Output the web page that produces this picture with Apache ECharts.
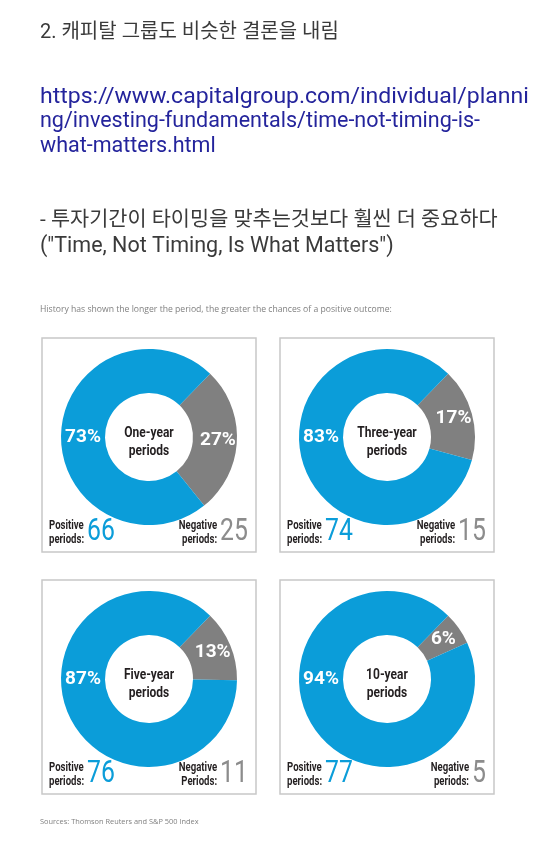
<!DOCTYPE html>
<html><head><meta charset="utf-8">
<script src="https://cdn.jsdelivr.net/npm/echarts@6/dist/echarts.min.js"></script>
<style>html,body{margin:0;padding:0;background:#fff}#c{width:540px;height:850px}</style>
</head><body><div id="c"></div>
<script>
// ---- data ----
const periods = ['One-year', 'Three-year', 'Five-year', '10-year'];
const positivePct = [73, 83, 87, 94];
const negativePct = [27, 17, 13, 6];
const positiveCount = [66, 74, 76, 77];
const negativeCount = [25, 15, 11, 5];
const negativeWord = ['periods:', 'periods:', 'Periods:', 'periods:'];
const headingText = '2. 캐피탈 그룹도 비슷한 결론을 내림';
const urlLines = ['https://www.capitalgroup.com/individual/planni', 'ng/investing-fundamentals/time-not-timing-is-', 'what-matters.html'];
const noteLines = ['- 투자기간이 타이밍을 맞추는것보다 훨씬 더 중요하다', '("Time, Not Timing, Is What Matters")'];
const captionText = 'History has shown the longer the period, the greater the chances of a positive outcome:';
const sourceText = 'Sources: Thomson Reuters and S&P 500 Index';

// ---- layout ----
const BLUE = '#0b9dd9', GRAY = '#808080', NUMGRAY = '#8c8c8c', DARK = '#231f20';
const FONT = 'Roboto';
const SX = 0.8; // horizontal condensing for panel texts
const boxes = [[42, 338], [280, 338], [42, 580], [280, 580]];
const BOX = 214;
const R0 = 44, R1 = 88;

const mctx = document.createElement('canvas').getContext('2d');
function textW(t, font) { mctx.font = font; return mctx.measureText(t).width; }

const graphic = [];
const fam = "Roboto,'Noto Sans CJK KR',sans-serif";
graphic.push({type: 'text', style: {text: headingText, x: 40, y: 33, font: '20px ' + fam, fill: '#3a3a3a', verticalAlign: 'middle'}});
urlLines.forEach((t, i) => graphic.push({type: 'text', x: 40, y: 97.5 + i * 24.5, scaleX: i === 0 ? 1.07 : 1, style: {text: t, x: 0, y: 0, font: '21.5px ' + fam, fill: '#24249c', verticalAlign: 'middle'}}));
graphic.push({type: 'text', style: {text: noteLines[0], x: 40, y: 221, font: '20.8px ' + fam, fill: '#3a3a3a', verticalAlign: 'middle'}});
graphic.push({type: 'text', style: {text: noteLines[1], x: 40, y: 247, font: '21.5px ' + fam, fill: '#3a3a3a', verticalAlign: 'middle'}});
graphic.push({type: 'text', style: {text: captionText, x: 40, y: 310, font: "8.65px 'Open Sans',sans-serif", fill: '#808080', verticalAlign: 'middle'}});
graphic.push({type: 'text', style: {text: sourceText, x: 40, y: 822, font: "7.4px 'Open Sans',sans-serif", fill: '#808080', verticalAlign: 'middle'}});

function ctext(text, x, y, font, fill, align, lineHeight) {
  return {type: 'text', x: x, y: y, scaleX: SX, style: {text: text, x: 0, y: 0, align: align || 'left', verticalAlign: 'middle', font: font, fill: fill, lineHeight: lineHeight}};
}

const series = [];
periods.forEach((p, i) => {
  const [bx, by] = boxes[i];
  const cx = bx + BOX / 2, cy = by + 99;
  graphic.push({type: 'rect', shape: {x: bx, y: by, width: BOX, height: BOX}, style: {fill: 'none', stroke: '#c8c8c8', lineWidth: 1.5}});
  // center label
  graphic.push(ctext(p + '\nperiods', cx, cy + 5, 'bold 15px ' + FONT, DARK, 'center', 18));
  // bottom labels
  const labFont = 'bold 12px ' + FONT;
  const numFont = '31px ' + FONT;
  const yb = by + 195;
  graphic.push(ctext('Positive\nperiods:', bx + 7, yb, labFont, DARK, 'left', 14));
  const posLabW = textW('periods:', labFont) * SX;
  graphic.push(ctext(String(positiveCount[i]), bx + 7 + posLabW + 3, yb - 1, numFont, BLUE, 'left'));
  const nw = textW(String(negativeCount[i]), numFont) * SX;
  graphic.push(ctext(String(negativeCount[i]), bx + BOX - 8, yb - 1, numFont, NUMGRAY, 'right'));
  graphic.push(ctext('Negative\n' + negativeWord[i], bx + BOX - 8 - nw - 3, yb, labFont, DARK, 'right', 14));

  series.push({
    type: 'pie', center: [cx, cy], radius: [R0, R1], startAngle: 46, clockwise: true,
    silent: true, animation: false,
    label: {show: true, position: 'inside', formatter: '{c}%', color: '#fff', fontSize: 19, fontWeight: 'bold', fontFamily: FONT},
    labelLine: {show: false},
    labelLayout: function (params) {
      if (params.dataIndex === 1) {
        return {x: cx - (R0 + R1) / 2, y: cy, align: 'center', verticalAlign: 'middle'};
      }
      return {};
    },
    data: [
      {name: 'Negative', value: negativePct[i], itemStyle: {color: GRAY}},
      {name: 'Positive', value: positivePct[i], itemStyle: {color: BLUE}}
    ]
  });
});

const chart = echarts.init(document.getElementById('c'), null, {renderer: 'canvas'});
chart.setOption({backgroundColor: '#fff', animation: false, series: series, graphic: graphic});
</script></body></html>
